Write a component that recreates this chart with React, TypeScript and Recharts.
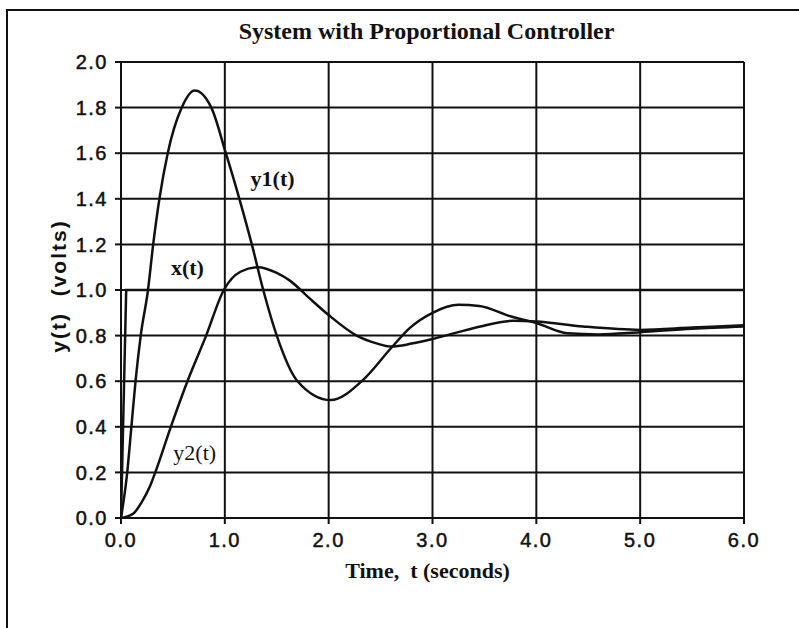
import { CartesianGrid, Line, LineChart, ReferenceDot, XAxis, YAxis } from 'recharts';

// axis ticks
const timeTicks = [0, 1, 2, 3, 4, 5, 6];
const voltTicks = [0, 0.2, 0.4, 0.6, 0.8, 1.0, 1.2, 1.4, 1.6, 1.8, 2.0];

// x(t): input step
const xTime = [0, 0.05, 6];
const xVolts = [0, 1.0, 1.0];

// y1(t): fast, strongly overshooting response
const y1Time = [0, 0.06, 0.1, 0.14, 0.19, 0.26, 0.31, 0.37, 0.45, 0.585, 0.71, 0.87, 1.01, 1.14, 1.26, 1.37, 1.5, 1.7, 2.02, 2.33, 2.61, 2.78, 3.0, 3.25, 3.45, 3.75, 4.0, 4.3, 4.6, 5.0, 5.5, 6.0];
const y1Volts = [0, 0.2, 0.4, 0.6, 0.8, 1.0, 1.2, 1.4, 1.6, 1.8, 1.875, 1.8, 1.6, 1.4, 1.2, 1.0, 0.8, 0.6, 0.517, 0.605, 0.75, 0.833, 0.9, 0.935, 0.93, 0.885, 0.855, 0.81, 0.805, 0.815, 0.83, 0.84];

// y2(t): slower, smaller overshoot
const y2Time = [0, 0.12, 0.2, 0.28, 0.33, 0.48, 0.64, 0.82, 0.99, 1.15, 1.32, 1.5, 1.63, 1.8, 2.0, 2.27, 2.46, 2.6, 2.8, 3.0, 3.23, 3.46, 3.78, 4.0, 4.45, 5.0, 5.5, 6.0];
const y2Volts = [0, 0.02, 0.07, 0.14, 0.2, 0.4, 0.6, 0.8, 1.0, 1.08, 1.1, 1.075, 1.04, 0.97, 0.89, 0.8, 0.766, 0.752, 0.765, 0.785, 0.813, 0.84, 0.865, 0.862, 0.84, 0.825, 0.835, 0.845];

// curve name labels, in data coordinates
const labelText = ['y1(t)', 'x(t)', 'y2(t)'];
const labelTime = [1.46, 0.64, 0.71];
const labelVolts = [1.49, 1.1, 0.29];
const labelBold = [true, true, false];

const toPoints = (ts: number[], vs: number[]) => ts.map((t, i) => ({ t, v: vs[i] }));

const INK = '#111';
const tickStyle = {
  fill: INK,
  stroke: INK,
  strokeWidth: 0.5,
  fontSize: 20,
  fontFamily: 'Liberation Sans',
  letterSpacing: 1.5,
};

export default function App() {
  return (
    <div style={{ position: 'relative', width: 799, height: 628, background: '#fff', overflow: 'hidden' }}>
      <style>{'body{margin:0}'}</style>
      {/* scanned page frame */}
      <div
        style={{
          position: 'absolute',
          left: 6,
          top: 9,
          width: 820,
          height: 640,
          borderLeft: `2px solid ${INK}`,
          borderTop: `2px solid ${INK}`,
        }}
      />
      <div
        style={{
          position: 'absolute',
          left: 110,
          width: 633,
          top: 18,
          textAlign: 'center',
          fontFamily: 'Liberation Serif',
          fontWeight: 'bold',
          fontSize: 24,
          color: INK,
        }}
      >
        System with Proportional Controller
      </div>
      <div
        style={{
          position: 'absolute',
          left: 59,
          top: 286,
          transform: 'translate(-50%, -50%) rotate(-90deg)',
          whiteSpace: 'pre',
          fontFamily: 'Liberation Sans',
          fontWeight: 'bold',
          fontSize: 21,
          letterSpacing: 2,
          color: INK,
        }}
      >
        {'y(t)  (volts)'}
      </div>
      <div
        style={{
          position: 'absolute',
          left: 111,
          width: 633,
          top: 558,
          textAlign: 'center',
          whiteSpace: 'pre',
          fontFamily: 'Liberation Serif',
          fontWeight: 'bold',
          fontSize: 22,
          color: INK,
        }}
      >
        {'Time,  t (seconds)'}
      </div>
      <div style={{ position: 'absolute', left: 0, top: 0 }}>
        <LineChart width={799} height={628} margin={{ top: 62, right: 55, bottom: 70, left: 61 }}>
          <CartesianGrid stroke={INK} strokeWidth={2} />
          <XAxis
            dataKey="t"
            type="number"
            domain={[0, 6]}
            ticks={timeTicks}
            interval={0}
            height={40}
            tickFormatter={(v: number) => v.toFixed(1)}
            axisLine={{ stroke: INK, strokeWidth: 2 }}
            tickLine={{ stroke: INK, strokeWidth: 2 }}
            tickSize={6}
            tickMargin={9}
            tick={tickStyle}
            allowDataOverflow
          />
          <YAxis
            type="number"
            domain={[0, 2]}
            ticks={voltTicks}
            interval={0}
            width={60}
            tickFormatter={(v: number) => v.toFixed(1)}
            axisLine={{ stroke: INK, strokeWidth: 2 }}
            tickLine={{ stroke: INK, strokeWidth: 2 }}
            tickSize={6}
            tickMargin={7}
            tick={tickStyle}
            allowDataOverflow
          />
          <Line
            data={toPoints(xTime, xVolts)}
            dataKey="v"
            type="linear"
            stroke={INK}
            strokeWidth={2.5}
            dot={false}
            isAnimationActive={false}
          />
          <Line
            data={toPoints(y1Time, y1Volts)}
            dataKey="v"
            type="monotone"
            stroke={INK}
            strokeWidth={2.5}
            dot={false}
            isAnimationActive={false}
          />
          <Line
            data={toPoints(y2Time, y2Volts)}
            dataKey="v"
            type="monotone"
            stroke={INK}
            strokeWidth={2.5}
            dot={false}
            isAnimationActive={false}
          />
          {labelText.map((text, i) => (
            <ReferenceDot
              key={text}
              x={labelTime[i]}
              y={labelVolts[i]}
              r={0}
              fill="none"
              stroke="none"
              label={{
                value: text,
                position: 'center',
                fill: INK,
                fontSize: 22,
                fontFamily: 'Liberation Serif',
                fontWeight: labelBold[i] ? 'bold' : 'normal',
              }}
            />
          ))}
        </LineChart>
      </div>
    </div>
  );
}
